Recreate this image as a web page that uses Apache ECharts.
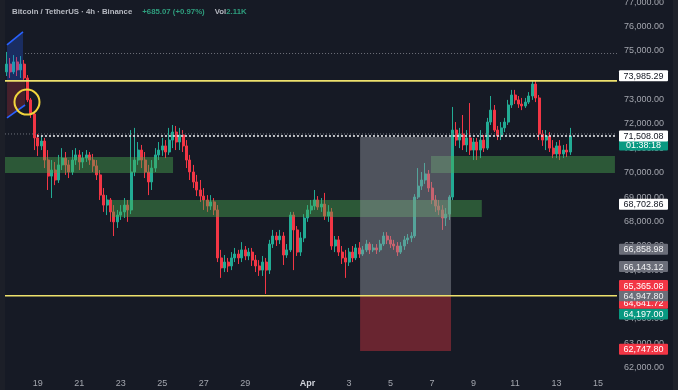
<!DOCTYPE html>
<html><head><meta charset="utf-8">
<script src="https://cdn.jsdelivr.net/npm/echarts@6/dist/echarts.min.js"></script>
<style>html,body{margin:0;padding:0;background:#161a25;}#c{width:678px;height:390px;}</style>
</head><body><div id="c"></div>
<script>
// ---- data (BTC/USDT 4h, Binance) ----
const startTime = Date.UTC(2024, 2, 17, 12); // first candle slot
const slotCount = 177;                         // visible 4h slots
const opens = [74140,74460,74140,74550,74220,74460,73890,72990,72410,71430,
 71100,71300,70520,69860,70110,69700,70320,70600,70320,70030,
 70520,70730,70440,70600,70730,70520,70280,69910,69080,68670,
 68880,68390,67980,68260,68390,68670,68470,70030,70520,70930,
 70520,70030,69620,70190,70730,70930,71100,70850,71340,71670,
 71260,71550,71100,70520,70030,69620,69290,69040,68880,68630,
 68800,68470,66500,66090,66330,66170,66500,66660,66500,66830,
 66580,66740,66410,66170,66000,66330,66000,67070,67400,67240,
 67400,66620,66830,68260,67650,66740,67320,68140,68470,68630,
 68880,68590,68710,68220,68390,66990,67240,66740,66500,66330,
 66740,66500,66910,66660,66830,67070,66830,66910,66830,67070,
 67400,67240,67070,66990,66740,66990,67240,67320,67400,69000,
 69450,69700,69950,69370,68880,68630,68470,68140,68300,69000,
 71750,71340,71590,71140,71430,70930,71260,70930,71340,71010,
 72080,72570,71750,71510,71840,72080,72780,73190,72990,72820,
 72740,72900,73150,73640,73070,71590,71340,71510,71010,70770,
 71100,70770,70930,70850];
const closes = [74460,74140,74550,74220,74460,73890,72990,72410,71430,71100,
 71300,70520,69860,70110,69700,70320,70600,70320,70030,70520,
 70730,70440,70600,70730,70520,70280,69910,69080,68670,68880,
 68390,67980,68260,68390,68670,68470,70030,70520,70930,70520,
 70030,69620,70190,70730,70930,71100,70850,71340,71670,71260,
 71550,71100,70520,70030,69620,69290,69040,68880,68630,68800,
 68470,66500,66090,66330,66170,66500,66660,66500,66830,66580,
 66740,66410,66170,66000,66330,66000,67070,67400,67240,67400,
 66620,66830,68260,67650,66740,67320,68140,68470,68630,68880,
 68590,68710,68220,68390,66990,67240,66740,66500,66330,66740,
 66500,66910,66660,66830,67070,66830,66910,66830,67070,67400,
 67240,67070,66990,66740,66990,67240,67320,67400,69000,69450,
 69700,69950,69370,68880,68630,68470,68140,68300,69000,71750,
 71340,71590,71140,71430,70930,71260,70930,71340,71010,72080,
 72570,71750,71510,71840,72080,72780,73190,72990,72820,72740,
 72900,73150,73640,73070,71590,71340,71510,71010,70770,71100,
 70770,70930,70850,71508.08];
const lows = [73970,73890,74050,73970,73890,73810,72900,72250,70930,70690,
 70930,70190,69290,68960,69490,69580,70110,69910,69780,69910,
 70320,70110,70190,70440,70320,70030,69700,68880,68390,68260,
 67980,67400,67730,68060,68140,67980,68300,69860,70320,70190,
 69780,69080,69290,70030,70520,70690,70600,70730,71010,70930,
 70930,70850,70190,69700,69370,69040,68800,68470,68390,68470,
 68260,66330,65680,65920,65920,66000,66330,66250,66330,66410,
 66410,66170,65920,65760,65760,65020,65840,66910,66990,67070,
 66210,66500,66740,66000,66580,66580,67150,67980,68300,68470,
 68470,68390,68060,67980,66830,66740,66580,66250,65680,66170,
 66330,66410,66500,66580,66740,66660,66740,66660,66740,66990,
 67070,66910,66830,66580,66660,66830,67070,67150,67320,68920,
 69290,69540,69210,68710,68390,68260,67650,67810,68060,68880,
 71100,71010,70930,70850,70730,70520,70520,70600,70850,70930,
 71960,71670,71340,71340,71670,71960,72660,72820,72660,72570,
 72660,72820,72990,72900,71340,71100,70930,70850,70600,70600,
 70520,70600,70640,70730];
const highs = [74960,74710,74830,74750,74790,74630,74010,73070,72490,71590,
 71510,71430,70930,70520,70440,70730,71010,70850,70520,70930,
 71010,70930,70850,70930,70850,70770,70520,70110,69370,69080,
 68960,68670,68470,68670,68960,68880,71750,71840,71260,71140,
 70850,70320,70520,71010,71260,71430,71340,71840,71960,71920,
 71840,71750,71340,70730,70320,69910,69700,69370,69080,69080,
 68960,68670,66830,66620,66500,66740,66910,66830,67150,66990,
 66910,66910,66620,66410,66580,66500,67240,67650,67560,67650,
 67560,67070,68390,68390,67810,67560,68300,68670,68880,69290,
 69040,68960,69170,68670,68550,67400,67400,66990,66830,66910,
 66990,67070,67150,66990,67240,67150,67070,67070,67240,67560,
 67560,67400,67240,67150,67150,67400,67480,67560,69120,70190,
 70030,70400,70110,69620,69080,68880,68670,68550,69080,72700,
 72080,71840,72370,71750,72860,71430,71430,71750,71550,72250,
 73150,72780,71920,72080,72250,72990,73400,73400,73150,73070,
 73070,73310,73770,73770,73190,71750,71750,71670,71340,71260,
 71340,71140,71180,71840];
const tickSlots  = [9,21,33,45,57,69,87,99,111,123,135,147,159,171];
const tickLabels = ['19','21','23','25','27','29','Apr','3','5','7','9','11','13','15'];
// right price-scale tags
const tagPrices = [71140, 71508.08, 73985.29, 68702.86, 66858.98, 66143.12, 64197, 64641.72, 64947.80, 65365.08, 62747.80];
const tagTexts  = ['01:38:18','71,508.08','73,985.29','68,702.86','66,858.98','66,143.12','64,197.00','64,641.72','64,947.80','65,365.08','62,747.80'];
const tagKinds  = ['teal','white','white','white','gray','gray','teal','red','gray','red','red'];

// ---- drawings (in slot / price coordinates) ----
const zones = [
  [-0.5, 48.1, 70640, 69990, 'green'],
  [30.4, 137.4, 68880, 68180, 'green'],
  [122.7, 175.9, 70690, 69990, 'green'],
  [102.2, 128.5, 71466, 64947.8, 'gray'],
  [102.2, 128.5, 64947.8, 62680, 'red']
];
const hLines = [
  [-0.5, 176.5, 73770, 'yellow'],
  [-0.5, 176.5, 64947.8, 'yellow'],
  [5.3, 176.5, 74895, 'dotGray'],
  [-0.5, 176.5, 71590, 'dotGray'],
  [8.75, 176.5, 71508.08, 'dotWhite']
];
const polys = [
  [[[0.08,75245],[4.7,75780],[4.7,73770],[0.08,73770]], 'blueFill'],
  [[[0.08,73770],[5.3,73770],[5.3,72780],[0.08,72250]], 'redFill']
];
const segs = [[0.08,75245,4.7,75780],[0.08,72250,5.3,72780]];
const circles = [[5.86, 72900]];

const zoneFill = {green:'rgba(76,175,80,0.42)', gray:'rgba(149,152,161,0.45)', red:'rgba(242,54,69,0.38)'};
const lineStyles = {
  yellow:{stroke:'#eee16d', lineWidth:1.6},
  dotGray:{stroke:'#6e717b', lineWidth:1, lineDash:[1,2]},
  dotWhite:{stroke:'#e6e7ea', lineWidth:1.6, lineDash:[2,2]}
};
const polyFill = {blueFill:'rgba(41,98,255,0.28)', redFill:'rgba(242,54,69,0.22)'};
const tagStyle = {white:{bg:'#ffffff',fg:'#131722'}, gray:{bg:'#6b6e79',fg:'#f0f1f3'}, red:{bg:'#f23645',fg:'#ffffff'}, teal:{bg:'#089981',fg:'#ffffff'}};

const categories = [];
for (let i = 0; i < slotCount; i++) {
  const d = new Date(startTime + i * 4 * 3600 * 1000);
  categories.push((d.getUTCMonth()+1) + '-' + d.getUTCDate() + ' ' + d.getUTCHours() + ':00');
}
const candles = opens.map((o, i) => [o, closes[i], lows[i], highs[i]]);

const shapes = [];
zones.forEach(z => shapes.push({t:'zone', d:z}));
polys.forEach(p => shapes.push({t:'poly', d:p}));
segs.forEach(s => shapes.push({t:'seg', d:s}));
hLines.forEach(l => shapes.push({t:'hline', d:l}));
circles.forEach(c => shapes.push({t:'circle', d:c}));

const FONT = '"Liberation Sans", Arial, sans-serif';
const chart = echarts.init(document.getElementById('c'));
chart.setOption({
  animation: false,
  backgroundColor: '#161a25',
  title: {
    left: 12, top: 3, padding: 0,
    text: '{a|Bitcoin / TetherUS · 4h · Binance}  {g|+685.07 (+0.97%)}  {a|Vol}{g|2.11K}',
    textStyle: { rich: {
      a: {color:'#b7bac2', fontSize:7.8, fontFamily:FONT},
      g: {color:'#2f9e7e', fontSize:7.8, fontFamily:FONT}
    }}
  },
  grid: {left:5, right:61, top:-22.1, bottom:-1.85, containLabel:false, outerBoundsMode:'none'},
  xAxis: [{
    type:'category', data:categories, boundaryGap:true, offset:-16,
    axisLine:{show:false}, axisTick:{show:false}, splitLine:{show:false},
    axisLabel:{
      interval:(i) => tickSlots.indexOf(i) >= 0,
      formatter:(v, i) => { const k = tickSlots.indexOf(i); const t = k >= 0 ? tickLabels[k] : ''; return t === 'Apr' ? '{b|Apr}' : t; },
      margin:3, color:'#a3a6ae', fontSize:9, fontFamily:FONT,
      rich:{b:{fontWeight:'bold', color:'#d1d4dc', fontSize:9, fontFamily:FONT}}
    }
  }, {
    type:'value', min:-0.5, max:slotCount-0.5, show:false
  }],
  yAxis: {
    type:'value', position:'right', min:61000, max:78000, interval:1000,
    axisLine:{show:false}, axisTick:{show:false}, splitLine:{show:false},
    axisLabel:{
      showMinLabel:false,
      formatter:(v) => v <= 61000 ? '' : v.toLocaleString('en-US', {minimumFractionDigits:2, maximumFractionDigits:2}),
      color:'#a3a6ae', fontSize:9, fontFamily:FONT, align:'right', margin:47
    }
  },
  series: [{
    type:'candlestick', data:candles, xAxisIndex:0, barWidth:2.5, z:2,
    itemStyle:{color:'#22ab94', color0:'#f23645', borderColor:'#22ab94', borderColor0:'#f23645', borderWidth:1}
  }, {
    type:'custom', xAxisIndex:1, yAxisIndex:0, z:3, silent:true,
    data: shapes.map(() => [0, 70000]),
    renderItem:(params, api) => {
      const s = shapes[params.dataIndex];
      const P = (x, p) => api.coord([x, p]);
      if (s.t === 'zone') {
        const [x0, x1, pt, pb, k] = s.d; const a = P(x0, pt), b = P(x1, pb);
        return {type:'rect', shape:{x:a[0], y:a[1], width:b[0]-a[0], height:b[1]-a[1]}, style:{fill:zoneFill[k]}};
      }
      if (s.t === 'poly') {
        return {type:'polygon', shape:{points:s.d[0].map(q => P(q[0], q[1]))}, style:{fill:polyFill[s.d[1]]}};
      }
      if (s.t === 'seg') {
        const a = P(s.d[0], s.d[1]), b = P(s.d[2], s.d[3]);
        return {type:'line', shape:{x1:a[0], y1:a[1], x2:b[0], y2:b[1]}, style:{stroke:'#2962ff', lineWidth:1.6}};
      }
      if (s.t === 'hline') {
        const a = P(s.d[0], s.d[2]), b = P(s.d[1], s.d[2]);
        return {type:'line', shape:{x1:a[0], y1:a[1], x2:b[0], y2:b[1]}, style:Object.assign({}, lineStyles[s.d[3]])};
      }
      const c = P(s.d[0], s.d[1]);
      return {type:'circle', shape:{cx:c[0], cy:c[1], r:12.5}, style:{fill:'none', stroke:'#f2d53c', lineWidth:2}};
    }
  }, {
    type:'custom', xAxisIndex:1, yAxisIndex:0, z:5, silent:true, clip:false,
    data: tagPrices.map(p => [0, p]),
    renderItem:(params, api) => {
      const i = params.dataIndex;
      const y = api.coord([0, api.value(1)])[1];
      const right = params.coordSys.x + params.coordSys.width;
      const st = tagStyle[tagKinds[i]];
      return {type:'group', children:[
        {type:'rect', shape:{x:right+2, y:y-5.5, width:49, height:11, r:1}, style:{fill:st.bg}},
        {type:'text', style:{text:tagTexts[i], x:right+26.5, y:y+0.5, align:'center', verticalAlign:'middle', fill:st.fg, font:'9px ' + FONT}}
      ]};
    }
  }],
  graphic: [
    {type:'rect', left:0, top:0, shape:{width:5, height:390}, style:{fill:'#1c1f28'}, z:10},
    {type:'rect', left:673, top:0, shape:{width:5, height:390}, style:{fill:'#1f222b'}, z:10}
  ]
});
</script></body></html>
